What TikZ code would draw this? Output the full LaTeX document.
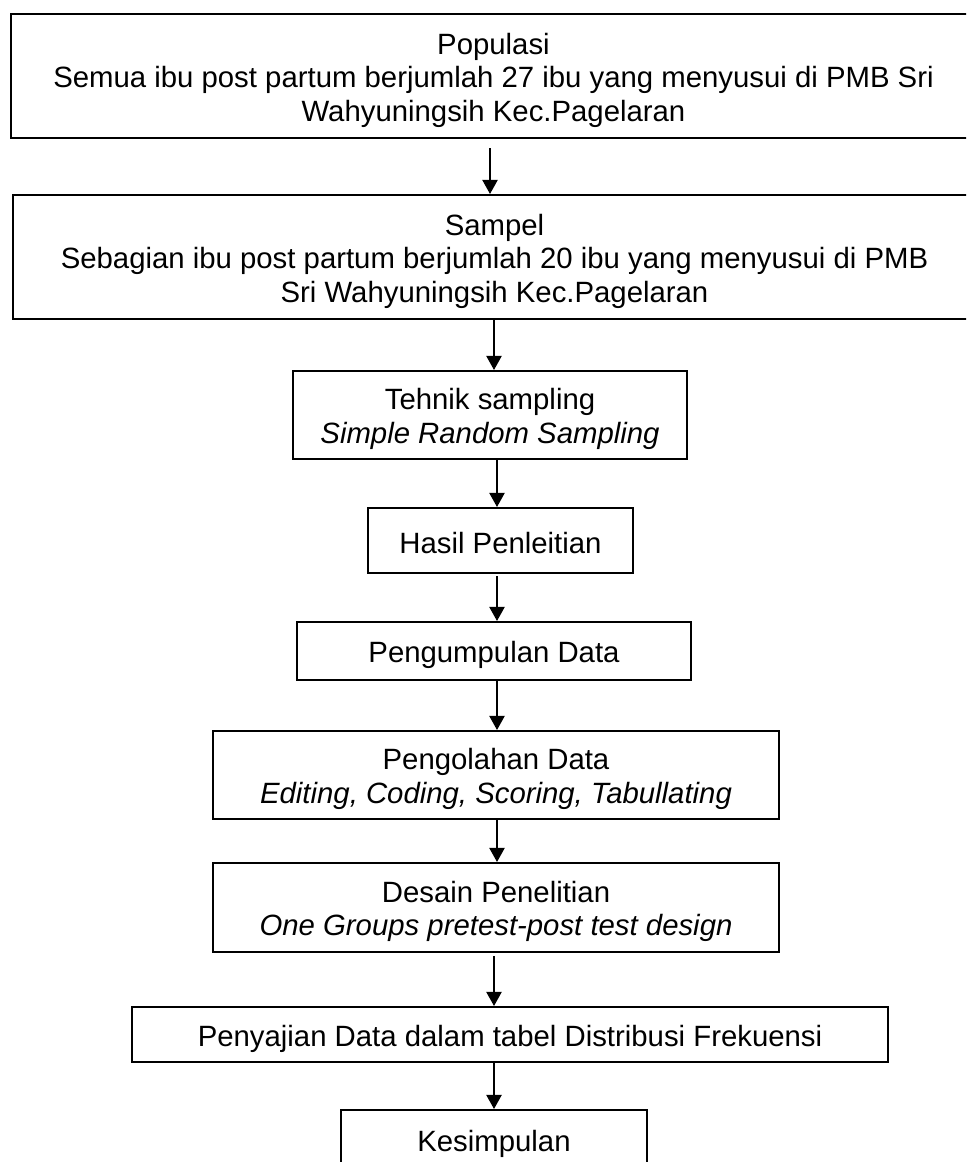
\documentclass[tikz,border=0pt]{standalone}
\usepackage{fontspec}
\setmainfont{Liberation Sans}
\usetikzlibrary{arrows.meta,calc}
\newcommand\firstline{\rule{0pt}{22pt}}
\begin{document}
\begin{tikzpicture}[x=0.75pt,y=-0.75pt,
  box/.style={draw=black,line width=1.6pt,rectangle,inner sep=0pt,align=center,
    font=\fontsize{22pt}{25.2pt}\selectfont},
  arr/.style={draw=black,line width=0.8pt,-{Triangle[length=10.5pt,width=11.5pt]}}]
\useasboundingbox (0,0) rectangle (966,1162);
\clip (0,0) rectangle (966,1162);
\fill[white] (0,0) rectangle (966,1162);

\node[box,minimum width=723.75pt,minimum height=93pt] (n1) at (493.5,76)
  {\firstline Populasi\\Semua ibu post partum berjumlah 27 ibu yang menyusui di PMB Sri\\Wahyuningsih Kec.Pagelaran};
\node[box,minimum width=722.25pt,minimum height=93pt] (n2) at (494.5,257)
  {\firstline Sampel\\Sebagian ibu post partum berjumlah 20 ibu yang menyusui di PMB\\Sri Wahyuningsih Kec.Pagelaran};
\node[box,minimum width=295.5pt,minimum height=66pt] (n3) at (490,415)
  {\firstline Tehnik sampling\\\itshape Simple Random Sampling};
\node[box,minimum width=198.75pt,minimum height=48.75pt] (n4) at (500.5,540.5)
  {\rule{0pt}{19pt}Hasil Penleitian};
\node[box,minimum width=295.5pt,minimum height=43.5pt] (n5) at (494,651)
  {\firstline Pengumpulan Data};
\node[box,minimum width=424.5pt,minimum height=66pt] (n6) at (496,775)
  {\firstline Pengolahan Data\\\itshape Editing, Coding, Scoring, Tabullating};
\node[box,minimum width=424.5pt,minimum height=66.75pt] (n7) at (496,907.5)
  {\firstline Desain Penelitian\\\itshape One Groups pretest-post test design};
\node[box,minimum width=567pt,minimum height=41.25pt] (n8) at (510,1034.5)
  {\firstline Penyajian Data dalam tabel Distribusi Frekuensi};
\node[box,minimum width=229.5pt,minimum height=45pt] (n9) at (494,1140)
  {\firstline Kesimpulan};

\draw[arr] ($(n1.south -| 490,0)+(0,9)$) -- (n2.north -| 490,0);
\draw[arr] (n2.south -| 494,0) -- (n3.north -| 494,0);
\draw[arr] ($(n3.south -| 497,0)+(0,-2)$) -- (n4.north -| 497,0);
\draw[arr] ($(n4.south -| 497,0)+(0,2)$) -- (n5.north -| 497,0);
\draw[arr] (n5.south -| 497,0) -- (n6.north -| 497,0);
\draw[arr] (n6.south -| 497,0) -- (n7.north -| 497,0);
\draw[arr] ($(n7.south -| 494,0)+(0,3)$) -- (n8.north -| 494,0);
\draw[arr] (n8.south -| 494,0) -- (n9.north -| 494,0);
\end{tikzpicture}
\end{document}
